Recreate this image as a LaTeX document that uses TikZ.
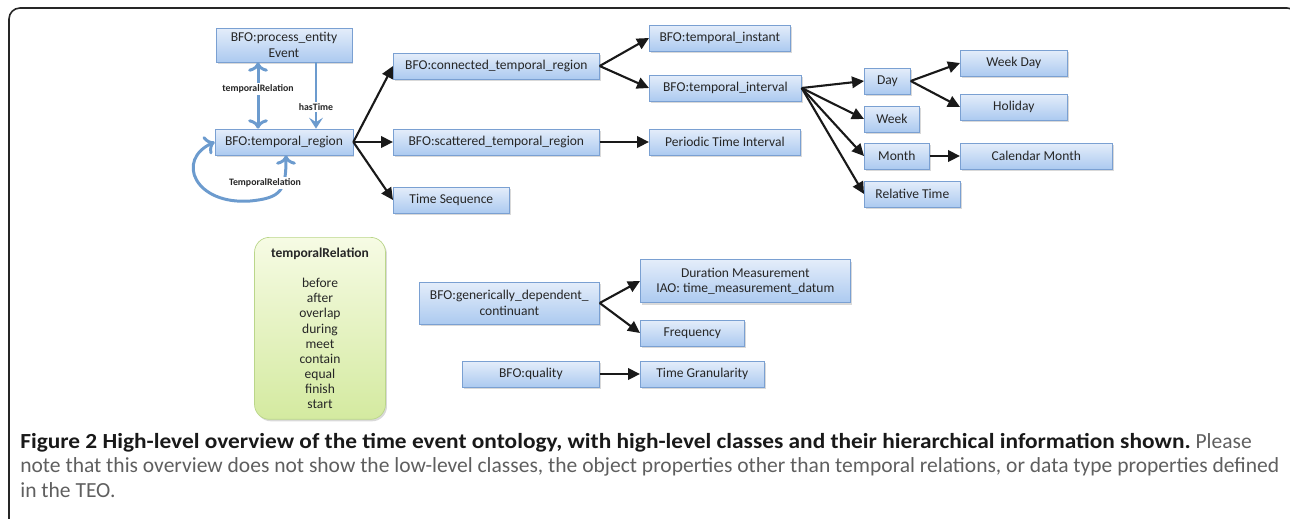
\documentclass[tikz,border=0pt]{standalone}
\usepackage{fontspec}
\setmainfont{Carlito}
\usepackage{tikz}
\usetikzlibrary{arrows.meta, positioning, shadows}

\definecolor{boxtop}{RGB}{228,237,250}
\definecolor{boxbot}{RGB}{172,202,240}
\definecolor{boxline}{RGB}{122,160,210}
\definecolor{grntop}{RGB}{246,251,228}
\definecolor{grnbot}{RGB}{212,234,160}
\definecolor{grnline}{RGB}{186,214,138}
\definecolor{relblue}{RGB}{108,155,206}
\definecolor{captext}{RGB}{95,95,95}

\begin{document}
\begin{tikzpicture}[x=0.02cm, y=-0.02cm,
    box/.style={draw=boxline, top color=boxtop, bottom color=boxbot, minimum height=0.52cm,
        inner sep=1pt, align=center, text=black!85, font=\fontsize{7.7}{8.8}\selectfont,
        drop shadow={shadow xshift=0.03cm, shadow yshift=-0.04cm, opacity=0.3}},
    isa/.style={-{Triangle[length=2.4mm, width=2.3mm]}, line width=1.2pt, black!90},
    rel/.style={line width=1.7pt, relblue, arrows={-Stealth[length=2.2mm, width=2.8mm, inset=0.9mm]}},
    lbl/.style={fill=white, inner sep=1pt, text=black!85, font=\fontsize{5.6}{6}\selectfont\bfseries}
]
\useasboundingbox (0,0) rectangle (1290,518);

% Frame round the figure
\draw[line width=0.9pt, black!85, rounded corners=0.22cm] (9,540) -- (9,8) -- (1298,8) -- (1298,540);

% Top level - process entity and temporal region
\node[box, minimum width=2.72cm, minimum height=0.68cm] (proc) at (284,45) {BFO:process\_entity\\Event};
\node[box, minimum width=2.76cm] (treg) at (284,142) {BFO:temporal\_region};

% Second column
\node[box, minimum width=4.12cm, anchor=west] (conn) at (393,66) {BFO:connected\_temporal\_region};
\node[box, minimum width=4.12cm, anchor=west] (scat) at (393,142) {BFO:scattered\_temporal\_region};
\node[box, minimum width=2.32cm, anchor=west] (tseq) at (393,200) {Time Sequence};

% Third column
\node[box, minimum width=2.82cm, anchor=west] (inst) at (649,38) {BFO:temporal\_instant};
\node[box, minimum width=3.04cm, anchor=west] (intv) at (649,88) {BFO:temporal\_interval};
\node[box, minimum width=3.02cm, anchor=west] (peri) at (649,142) {Periodic Time Interval};

% Units of the interval
\node[box, minimum width=0.92cm, anchor=west] (day) at (864,81) {Day};
\node[box, minimum width=1.10cm, anchor=west] (week) at (864,119) {Week};
\node[box, minimum width=1.30cm, anchor=west] (month) at (864,156) {Month};
\node[box, minimum width=1.92cm, anchor=west] (reltime) at (864,194) {Relative Time};

% Last column
\node[box, minimum width=2.14cm, anchor=west] (wday) at (960,63) {Week Day};
\node[box, minimum width=2.14cm, anchor=west] (hday) at (960,107) {Holiday};
\node[box, minimum width=3.04cm, anchor=west] (calmonth) at (960,156) {Calendar Month};

% Relation list
\node[draw=grnline, top color=grntop, bottom color=grnbot, rounded corners=0.3cm,
    minimum width=2.62cm, minimum height=3.64cm, align=center, text=black!85,
    font=\fontsize{7.7}{8.55}\selectfont, anchor=north,
    drop shadow={shadow xshift=0.03cm, shadow yshift=-0.04cm, opacity=0.3}] (rellist) at (320,237)
    {\textbf{temporalRelation}\\[8.5pt]before\\after\\overlap\\during\\meet\\contain\\equal\\finish\\start};

% Lower part - dependent continuant and quality
\node[box, minimum width=3.6cm, minimum height=0.84cm, anchor=west] (gdc) at (419,303) {BFO:generically\_dependent\_\\continuant};
\node[box, minimum width=4.2cm, minimum height=0.86cm, anchor=west] (dur) at (640,281) {Duration Measurement\\IAO: time\_measurement\_datum};
\node[box, minimum width=2.08cm, anchor=west] (freq) at (640,333) {Frequency};
\node[box, minimum width=2.74cm, anchor=west] (qual) at (462,374) {BFO:quality};
\node[box, minimum width=2.48cm, anchor=west] (gran) at (640,374) {Time Granularity};

% is-a arrows
\draw[isa] (treg.east) -- (conn.west);
\draw[isa] (treg.east) -- (scat.west);
\draw[isa] (treg.east) -- (tseq.west);
\draw[isa] (conn.east) -- (inst.west);
\draw[isa] (conn.east) -- (intv.west);
\draw[isa] (scat.east) -- (peri.west);
\foreach \t in {day, week, month, reltime}
    \draw[isa] (intv.east) -- (\t.west);
\draw[isa] (day.east) -- (wday.west);
\draw[isa] (day.east) -- (hday.west);
\draw[isa] (month.east) -- (calmonth.west);
\draw[isa] (gdc.east) -- (dur.west);
\draw[isa] (gdc.east) -- (freq.west);
\draw[isa] (qual.east) -- (gran.west);

% Relations between event and temporal region
\draw[rel, <->] ([xshift=-0.52cm]proc.south) -- ([xshift=-0.52cm]treg.north) node[lbl, pos=0.4] (trlbl) {temporalRelation};
\draw[rel] ([xshift=0.64cm]proc.south) -- ([xshift=0.64cm]treg.north) node[lbl, pos=0.67] (htlbl) {hasTime};

% Self loop on the temporal region
\draw[rel, <->] (treg.west) .. controls (175,160) and (195,205) .. (250,201)
    .. controls (282,198) and (286,190) .. ([xshift=0.04cm]treg.south);
\node[lbl] (looplbl) at (265,183) {TemporalRelation};

% Caption
\node[anchor=north west, align=left, inner sep=0pt, text=captext,
    font=\fontsize{12.25}{13.9}\selectfont] (caption) at (20,433)
    {\scalebox{1.085}[1]{\textbf{\textcolor{black!90}{Figure 2 High-level overview of the time event ontology, with high-level classes and their hierarchical information shown.}}} Please\\
    note that this overview does not show the low-level classes, the object properties other than temporal relations, or data type properties defined\\
    in the TEO.};

\end{tikzpicture}
\end{document}
